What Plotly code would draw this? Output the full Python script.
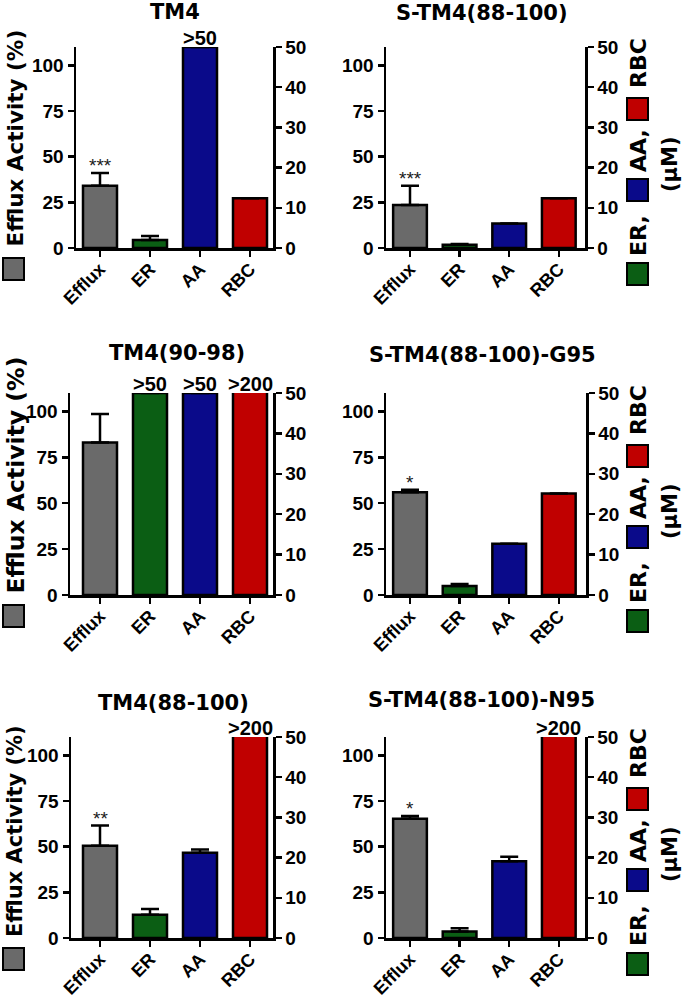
import plotly.graph_objects as go

# ---------------- data ----------------
titles = ["TM4", "S-TM4(88-100)", "TM4(90-98)", "S-TM4(88-100)-G95",
          "TM4(88-100)", "S-TM4(88-100)-N95"]
categories = ["Efflux", "ER", "AA", "RBC"]
efflux_pct = [34, 23.5, 83, 56, 50.5, 65.2]
efflux_err = [7, 10.5, 15.5, 1.3, 11, 1.6]
efflux_sig = ["***", "***", "", "*", "**", "*"]
er_uM = [2.0, 0.8, 50, 2.2, 5.8, 1.6]
er_err = [1.0, 0.2, None, 0.5, 1.4, 0.8]
aa_uM = [50, 6.1, 50, 12.7, 21.2, 19.1]
aa_err = [None, None, None, None, 0.8, 1.1]
rbc_uM = [12.4, 12.4, 200, 25.1, 200, 200]
rbc_err = [None, None, None, None, None, None]
er_over = ["", "", ">50", "", "", ""]
aa_over = [">50", "", ">50", "", "", ""]
rbc_over = ["", "", ">200", "", ">200", ">200"]
left_ticks = [0, 25, 50, 75, 100]
right_ticks = [0, 10, 20, 30, 40, 50]
left_range = [0, 110]
right_range = [0, 50]

# ---------------- styling / layout ----------------
W, H = 693, 999
colors = ["#6a6a6a", "#0b5e14", "#0a0a8a", "#c00000"]
# plot boxes in pixels: left, right, top, bottom
boxes = [(76, 273, 47, 248), (386, 585, 47, 248),
         (70, 273, 393, 595), (386, 586, 393, 595),
         (71, 273, 737, 938), (386, 585, 737, 938)]
cat0_px = [100, 410, 100, 410, 100, 410]
cat_step = [50, 49.6, 50, 49.6, 50, 49.6]
title_pos = [(175, 12), (482, 13), (177, 353), (482, 355), (173, 703), (481, 700)]
left_label_size = [21.5, None, 23.5, None, 21, None]

SANS = "Liberation Sans, Arial, sans-serif"
WIDE = "DejaVu Sans, Verdana, sans-serif"


def px(x):
    return x / W


def py(y):
    return 1 - y / H


fig = go.Figure()
layout = dict(width=W, height=H, margin=dict(l=0, r=0, t=0, b=0, pad=0),
              autosize=False,
              paper_bgcolor="white", plot_bgcolor="white",
              showlegend=False, barmode="overlay")
annotations = []
shapes = []

for i in range(6):
    n = i + 1
    xa = "x" if n == 1 else f"x{n}"
    yl_id = 2 * i + 1
    yr_id = 2 * i + 2
    yl = "y" if yl_id == 1 else f"y{yl_id}"
    yr = f"y{yr_id}"
    l, r, t, b = boxes[i]
    c0, st = cat0_px[i], cat_step[i]

    fig.add_trace(go.Bar(
        x=[0], y=[efflux_pct[i]], xaxis=xa, yaxis=yl, width=0.68,
        marker=dict(color=colors[0], line=dict(color="black", width=2.5)),
        error_y=dict(type="data", symmetric=False, array=[efflux_err[i]],
                     arrayminus=[0], color="black", thickness=2.5, width=9),
    ))
    fig.add_trace(go.Bar(
        x=[1, 2, 3], y=[er_uM[i], aa_uM[i], rbc_uM[i]], xaxis=xa, yaxis=yr,
        width=0.68,
        marker=dict(color=colors[1:], line=dict(color="black", width=2.5)),
        error_y=dict(type="data", symmetric=False,
                     array=[er_err[i], aa_err[i], rbc_err[i]],
                     arrayminus=[0, 0, 0], color="black", thickness=2.5, width=9),
    ))

    axis_common = dict(showline=True, linecolor="black", linewidth=2.5,
                       ticks="outside", tickcolor="black", tickwidth=2.5,
                       showgrid=False, zeroline=False, automargin=False,
                       fixedrange=True)
    layout["xaxis" if n == 1 else f"xaxis{n}"] = dict(
        axis_common, domain=[px(l), px(r)],
        range=[(l - c0) / st, (r - c0) / st],
        anchor=yl, tickvals=[0, 1, 2, 3], ticktext=categories,
        tickangle=-45, ticklen=6, ticklabelstandoff=-5,
        tickfont=dict(family=SANS, size=18, color="black", weight="bold"))
    layout["yaxis" if yl_id == 1 else f"yaxis{yl_id}"] = dict(
        axis_common, domain=[py(b), py(t)], range=left_range,
        anchor=xa, tickvals=left_ticks, ticklen=6,
        tickfont=dict(family=SANS, size=19, color="black", weight="bold"))
    layout[f"yaxis{yr_id}"] = dict(
        axis_common, domain=[py(b), py(t)], range=right_range,
        anchor=xa, overlaying=yl, side="right", tickvals=right_ticks,
        ticklen=6,
        tickfont=dict(family=SANS, size=19, color="black", weight="bold"))

    # title
    tx, ty = title_pos[i]
    annotations.append(dict(text=titles[i], x=px(tx), y=py(ty), xref="paper",
                            yref="paper", showarrow=False, xanchor="center",
                            yanchor="middle",
                            font=dict(family=WIDE, size=21, color="black",
                                      weight="bold")))
    # significance stars
    if efflux_sig[i]:
        annotations.append(dict(text=efflux_sig[i], x=0,
                                y=efflux_pct[i] + efflux_err[i],
                                xref=xa, yref=yl, showarrow=False,
                                yanchor="bottom", yshift=-5,
                                font=dict(family=SANS, size=19, color="#1a1a1a")))
    # over-range labels
    for k, lab in zip([1, 2, 3], [er_over[i], aa_over[i], rbc_over[i]]):
        if lab:
            annotations.append(dict(text=lab, x=k, y=1, xref=xa,
                                    yref=f"{yl} domain", showarrow=False,
                                    yanchor="bottom", yshift=-4,
                                    font=dict(family=SANS, size=20,
                                              color="black", weight="bold")))

    if i % 2 == 0:
        # left axis label with grey legend box
        annotations.append(dict(text="Efflux Activity (%)", textangle=-90,
                                x=px(15), y=py(b + 1), xref="paper",
                                yref="paper", showarrow=False,
                                xanchor="center", yanchor="bottom",
                                font=dict(family=WIDE,
                                          size=left_label_size[i],
                                          color="black", weight="bold")))
        shapes.append(dict(type="rect", xref="paper", yref="paper",
                           x0=px(3), x1=px(24), y0=py(b + 10), y1=py(b + 32),
                           fillcolor=colors[0],
                           line=dict(color="black", width=2)))
    else:
        # right axis label with coloured legend boxes
        word_off = [("ER,", -12), ("AA,", -97), ("RBC", -185)]
        box_off = [(15, 37, colors[1]), (-69, -47, colors[2]),
                   (-150, -128, colors[3])]
        for w, off in word_off:
            annotations.append(dict(text=w, textangle=-90, x=px(638),
                                    y=py(b + off), xref="paper", yref="paper",
                                    showarrow=False, xanchor="center",
                                    yanchor="middle",
                                    font=dict(family=WIDE, size=22,
                                              color="black", weight="bold")))
        for y0, y1, c in box_off:
            shapes.append(dict(type="rect", xref="paper", yref="paper",
                               x0=px(627), x1=px(648), y0=py(b + y0),
                               y1=py(b + y1), fillcolor=c,
                               line=dict(color="black", width=2)))
        annotations.append(dict(text="(µM)", textangle=-90, x=px(670),
                                y=py(b - 84), xref="paper", yref="paper",
                                showarrow=False, xanchor="center",
                                yanchor="middle",
                                font=dict(family=WIDE, size=21,
                                          color="black", weight="bold")))

layout["annotations"] = annotations
layout["shapes"] = shapes
fig.update_layout(**layout)
fig.write_html("out.html",
               config=dict(displayModeBar=False, staticPlot=True),
               post_script="document.body.style.margin='0';"
                           "document.body.style.overflow='hidden';")
